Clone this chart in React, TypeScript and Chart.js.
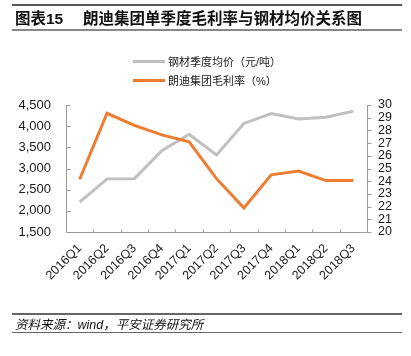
import React, { useEffect, useRef } from "react";
import { Chart, registerables } from "chart.js";

Chart.register(...registerables);

const categories = ["2016Q1", "2016Q2", "2016Q3", "2016Q4", "2017Q1", "2017Q2", "2017Q3", "2017Q4", "2018Q1", "2018Q2", "2018Q3"];
const steelPrice = [2205, 2755, 2760, 3420, 3810, 3320, 4065, 4300, 4170, 4210, 4355];
const grossMargin = [24.15, 29.35, 28.4, 27.65, 27.1, 24.2, 21.9, 24.5, 24.8, 24.05, 24.05];
const leftTicks = [1500, 2000, 2500, 3000, 3500, 4000, 4500];
const rightTicks = [20, 21, 22, 23, 24, 25, 26, 27, 28, 29, 30];

const titleLabel = "图表15";
const titleText = "朗迪集团单季度毛利率与钢材均价关系图";
const legendSteel = "钢材季度均价（元/吨）";
const legendMargin = "朗迪集团毛利率（%）";
const sourceText = "资料来源：wind，平安证券研究所";

const GRAY = "#c0c0c0";
const ORANGE = "#ed7d31";
const AXIS = "#9a9a9a";
const FONT = "'Liberation Sans', Arial, 'Noto Sans CJK SC', sans-serif";

const axisPlugin = {
  id: "axisLines",
  afterDraw(chart: any) {
    const { ctx, chartArea, scales } = chart;
    const { left, right, top, bottom } = chartArea;
    ctx.save();
    ctx.strokeStyle = AXIS;
    ctx.lineWidth = 1;
    const line = (x1: number, y1: number, x2: number, y2: number) => {
      ctx.beginPath();
      ctx.moveTo(x1, y1);
      ctx.lineTo(x2, y2);
      ctx.stroke();
    };
    const L = Math.round(left) + 0.5;
    const R = Math.round(right) + 0.5;
    const B = Math.round(bottom) + 0.5;
    line(L, top, L, B);
    line(R, top, R, B);
    line(L, B, R, B);
    scales.y.ticks.forEach((t: any) => {
      const y = Math.round(scales.y.getPixelForValue(t.value)) + 0.5;
      line(L, y, L + 4, y);
    });
    scales.y1.ticks.forEach((t: any) => {
      const y = Math.round(scales.y1.getPixelForValue(t.value)) + 0.5;
      line(R, y, R + 4, y);
    });
    const n = categories.length;
    for (let i = 1; i < n; i++) {
      const x = Math.round(left + (i * (right - left)) / n) + 0.5;
      line(x, B, x, B - 3);
    }
    ctx.restore();
  },
};

export default function App() {
  const canvasRef = useRef<HTMLCanvasElement | null>(null);

  useEffect(() => {
    if (!canvasRef.current) return;
    const chart = new Chart(canvasRef.current, {
      type: "line",
      data: {
        labels: categories,
        datasets: [
          {
            label: legendMargin,
            data: grossMargin,
            yAxisID: "y1",
            borderColor: ORANGE,
            backgroundColor: ORANGE,
            borderWidth: 3,
            pointRadius: 0,
            tension: 0,
          },
          {
            label: legendSteel,
            data: steelPrice,
            yAxisID: "y",
            borderColor: GRAY,
            backgroundColor: GRAY,
            borderWidth: 3,
            pointRadius: 0,
            tension: 0,
          },
        ],
      },
      options: {
        responsive: false,
        animation: false,
        layout: { padding: { top: 105, left: 0, right: 0, bottom: 64 } },
        plugins: {
          legend: { display: false },
          tooltip: { enabled: false },
          title: { display: false },
        },
        scales: {
          x: {
            type: "category",
            offset: true,
            grid: { display: false, drawTicks: false },
            border: { display: false },
            ticks: {
              autoSkip: false,
              minRotation: 45,
              maxRotation: 45,
              padding: 9,
              color: "#1a1a1a",
              font: { family: FONT, size: 12.5 },
            },
            afterFit(scale: any) {
              scale.height = 60;
            },
          },
          y: {
            type: "linear",
            position: "left",
            min: 1500,
            max: 4500,
            afterBuildTicks(scale: any) {
              scale.ticks = leftTicks.map((v) => ({ value: v }));
            },
            grid: { display: false, drawTicks: false },
            border: { display: false },
            ticks: {
              autoSkip: false,
              padding: 15,
              color: "#1a1a1a",
              font: { family: FONT, size: 13 },
              callback: (v: any) => Number(v).toLocaleString("en-US"),
            },
            afterFit(scale: any) {
              scale.width = 66;
            },
          },
          y1: {
            type: "linear",
            position: "right",
            min: 20,
            max: 30,
            afterBuildTicks(scale: any) {
              scale.ticks = rightTicks.map((v) => ({ value: v }));
            },
            grid: { display: false, drawTicks: false },
            border: { display: false },
            ticks: {
              autoSkip: false,
              padding: 11,
              color: "#1a1a1a",
              font: { family: FONT, size: 12.5 },
            },
            afterFit(scale: any) {
              scale.width = 44;
            },
          },
        },
      },
      plugins: [axisPlugin],
    } as any);
    return () => chart.destroy();
  }, []);

  const legendRow = (color: string, text: string, top: number) => (
    <div style={{ position: "absolute", left: 133, top: top - 8, height: 16, display: "flex", alignItems: "center" }}>
      <div style={{ width: 32, height: 3, background: color }} />
      <span style={{ marginLeft: 3, fontSize: 11, color: "#1a1a1a", fontFamily: FONT, whiteSpace: "nowrap" }}>{text}</span>
    </div>
  );

  return (
    <div style={{ position: "absolute", left: 0, top: 0, width: 411, height: 356, background: "#fff", overflow: "hidden" }}>
      <canvas ref={canvasRef} width={411} height={356} style={{ position: "absolute", left: 0, top: 0, width: 411, height: 356 }} />
      <div style={{ position: "absolute", left: 12, top: 4, width: 390, height: 2, background: "#555" }} />
      <div style={{ position: "absolute", left: 15, top: 8, height: 18, display: "flex", alignItems: "center", fontFamily: FONT, fontWeight: "bold", fontSize: 15.5, color: "#111", whiteSpace: "nowrap" }}>
        <span>{titleLabel}</span>
      </div>
      <div style={{ position: "absolute", left: 83, top: 8, height: 18, display: "flex", alignItems: "center", fontFamily: FONT, fontWeight: "bold", fontSize: 15.5, color: "#111", whiteSpace: "nowrap" }}>
        <span>{titleText}</span>
      </div>
      <div style={{ position: "absolute", left: 12, top: 29, width: 390, height: 2, background: "#888" }} />
      {legendRow(GRAY, legendSteel, 61)}
      {legendRow(ORANGE, legendMargin, 80)}
      <div style={{ position: "absolute", left: 12, top: 313, width: 390, height: 1.5, background: "#666" }} />
      <div style={{ position: "absolute", left: 15, top: 315, height: 16, display: "flex", alignItems: "center", fontFamily: FONT, fontStyle: "italic", fontSize: 12.5, color: "#111", whiteSpace: "nowrap" }}>
        <span>{sourceText}</span>
      </div>
      <div style={{ position: "absolute", left: 12, top: 331.5, width: 390, height: 1.5, background: "#666" }} />
    </div>
  );
}
